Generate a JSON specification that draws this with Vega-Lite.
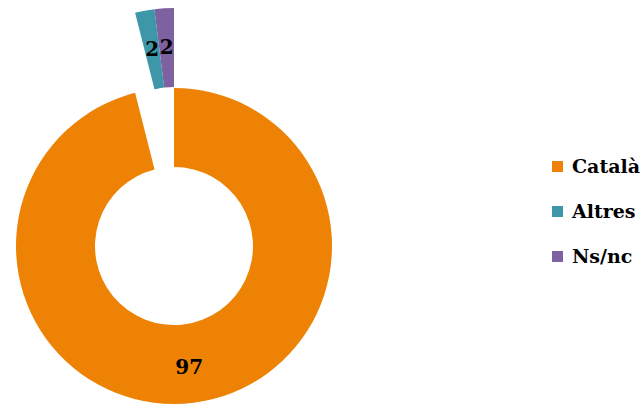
{
  "$schema": "https://vega.github.io/schema/vega-lite/v6.json",
  "width": 348,
  "height": 492,
  "padding": 0,
  "background": "white",
  "data": {
    "values": [
      {"category": "Català", "value": 97, "ord": 1},
      {"category": "Altres", "value": 2, "ord": 2},
      {"category": "Ns/nc", "value": 2, "ord": 3}
    ]
  },
  "encoding": {
    "theta": {"field": "value", "type": "quantitative", "stack": true},
    "order": {"field": "ord", "type": "quantitative"}
  },
  "layer": [
    {
      "mark": {"type": "arc", "radius": 158, "radius2": 79},
      "encoding": {
        "color": {
          "field": "category",
          "type": "nominal",
          "scale": {"domain": ["Català", "Altres", "Ns/nc"], "range": ["#EE8205", "#3D97A9", "#7E61A0"]},
          "legend": {
            "title": null,
            "orient": "none",
            "legendX": 548,
            "legendY": 157,
            "symbolType": "square",
            "symbolSize": 121,
            "symbolStrokeWidth": 0,
            "labelFont": "DejaVu Serif",
            "labelFontWeight": "bold",
            "labelFontSize": 19,
            "labelColor": "#000000",
            "labelOffset": 5,
            "rowPadding": 25,
            "padding": 0
          }
        },
        "opacity": {"condition": {"test": "datum.category === 'Català'", "value": 1}, "value": 0}
      }
    },
    {
      "mark": {"type": "arc", "radius": 158, "radius2": 79, "yOffset": -80},
      "encoding": {
        "color": {"field": "category", "type": "nominal"},
        "opacity": {"condition": {"test": "datum.category !== 'Català'", "value": 1}, "value": 0}
      }
    },
    {
      "mark": {"type": "text", "radius": 123, "font": "DejaVu Serif", "fontWeight": "bold", "fontSize": 20, "color": "#000000"},
      "encoding": {
        "text": {"field": "value", "type": "quantitative"},
        "opacity": {"condition": {"test": "datum.category === 'Català'", "value": 1}, "value": 0}
      }
    },
    {
      "mark": {"type": "text", "radius": 118, "yOffset": -80, "font": "DejaVu Serif", "fontWeight": "bold", "fontSize": 20, "color": "#000000"},
      "encoding": {
        "text": {"field": "value", "type": "quantitative"},
        "opacity": {"condition": {"test": "datum.category !== 'Català'", "value": 1}, "value": 0}
      }
    }
  ],
  "config": {"view": {"stroke": null}}
}
